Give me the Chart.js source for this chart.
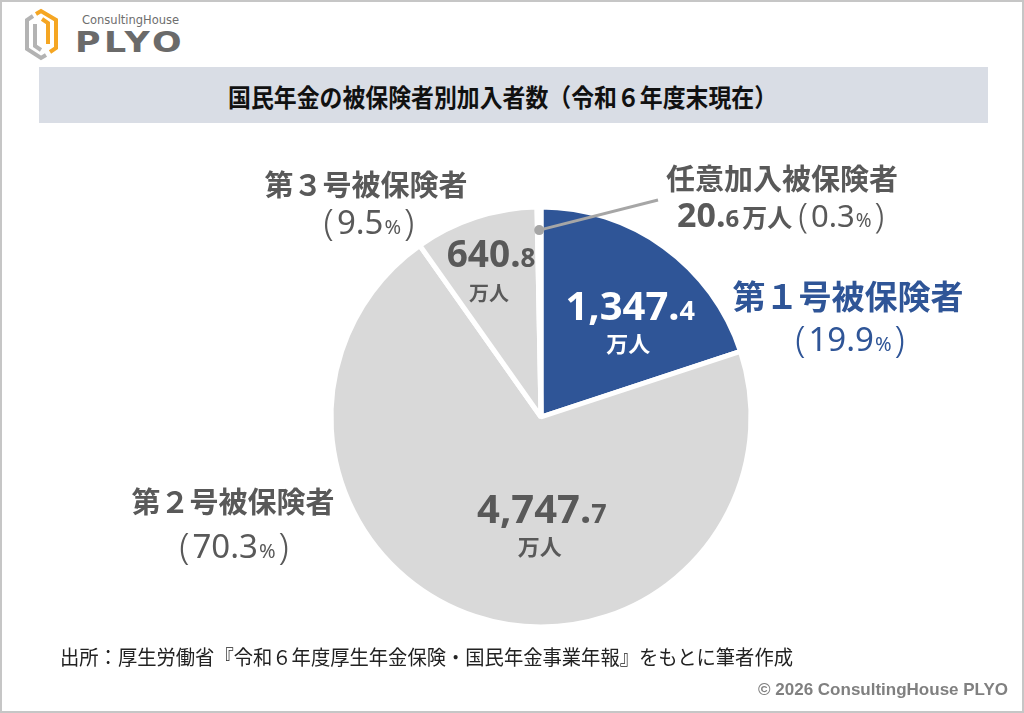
<!DOCTYPE html>
<html lang="ja"><head><meta charset="utf-8">
<script src="https://cdn.jsdelivr.net/npm/chart.js@4.4.1/dist/chart.umd.min.js"></script>
<style>
html,body{margin:0;padding:0;background:#fff;}
#wrap{position:relative;width:1024px;height:713px;overflow:hidden;background:#fff;font-family:"Noto Sans CJK JP",sans-serif;}
#frame{position:absolute;left:0;top:0;width:1020px;height:709px;border:2px solid #c6c6c6;pointer-events:none;z-index:5;}
#chart{position:absolute;left:0;top:0;}
#banner{position:absolute;left:39px;top:67px;width:949px;height:56px;background:#d9dde5;}
#title{position:absolute;left:228px;top:80px;font-weight:700;font-size:25px;line-height:32px;color:#111;white-space:nowrap;transform:scaleX(0.915);transform-origin:0 0;}
#source{position:absolute;left:60px;top:644px;font-size:20px;line-height:26px;color:#222;white-space:nowrap;transform:scaleX(0.965);transform-origin:0 0;}
#copy{position:absolute;right:16px;top:680px;font-family:"Liberation Sans",Arial,sans-serif;font-weight:700;font-size:17px;line-height:20px;color:#808080;white-space:nowrap;}
#ch{position:absolute;left:82px;top:13px;font-family:"DejaVu Sans",sans-serif;font-size:11.5px;line-height:14px;color:#6e6e6e;white-space:nowrap;}
#plyo{position:absolute;left:75px;top:28px;font-family:"DejaVu Sans",sans-serif;font-weight:700;font-size:29px;line-height:29px;letter-spacing:3px;color:#6a6a6a;white-space:nowrap;transform:scaleX(1.2);transform-origin:0 0;}
#icon{position:absolute;left:0;top:0;}
</style></head>
<body>
<div id="wrap">
  <svg id="icon" width="70" height="70">
    <g fill="none" stroke-width="4" stroke-linejoin="miter">
      <path d="M46 55 L41 58 L27 49 L27 20 L33 16" stroke="#b3b3b3"/>
      <path d="M35 24 L35 46 L41 50" stroke="#b3b3b3"/>
      <path d="M36 14 L41 11 L56 20 L56 48 L50 52" stroke="#f5a623"/>
      <path d="M48 44 L48 23 L42 19" stroke="#f5a623"/>
    </g>
  </svg>
  <div id="ch">ConsultingHouse</div>
  <div id="plyo">PLYO</div>
  <div id="banner"></div>
  <div id="title">国民年金の被保険者別加入者数（令和６年度末現在）</div>
  <canvas id="chart" width="1024" height="713"></canvas>
  <div id="source">出所：厚生労働省『令和６年度厚生年金保険・国民年金事業年報』をもとに筆者作成</div>
  <div id="copy">© 2026 ConsultingHouse PLYO</div>
  <div id="frame"></div>
</div>
<script>
// ---- data ----
const categories = ['第１号被保険者', '第２号被保険者', '第３号被保険者', '任意加入被保険者'];
const values = [1347.4, 4747.7, 640.8, 20.6];
const unitLabel = '万人';

// ---- styles ----
const sliceColors = ['#2f5597', '#d9d9d9', '#d9d9d9', '#d9d9d9'];
const GRAY = '#595959';
const BLUE = '#2f5597';
const CJK = '"Noto Sans CJK JP", sans-serif';
const NUM = '"Noto Sans", "Noto Sans CJK JP", sans-serif';

// inside-label placement: polar from slice mid-angle (fraction of radius) + pixel nudge
const inside = [
  {f: 0.68, dx: 5.5, dy: 19, big: 40, small: 27, unit: 22, unitDy: 23, color: '#ffffff'},
  {f: 0.443, dx: 30, dy: 17.6, big: 40, small: 27, unit: 22, unitDy: 24, color: GRAY},
  {f: 0.80, dx: 2.4, dy: 9.6, big: 37, small: 26, unit: 20, unitDy: 26, color: GRAY},
  null
];
// outside-label placement: offsets from pie centre
const outside = [
  {nx: 307, ny: -121, ns: 33, px: 309, py: -66, ps: 33, color: BLUE},
  {nx: -308, ny: 85, ns: 29, px: -307, py: 141, ps: 33, color: GRAY},
  {nx: -175, ny: -232, ns: 29, px: -172, py: -183, ps: 33, color: GRAY},
  {nx: 241, ny: -238, ns: 29, px: 136, py: -190, ps: 31, color: GRAY}
];

const total = values.reduce((a, b) => a + b, 0);
function fmtNum(v) {
  const s = v.toLocaleString('en-US', {minimumFractionDigits: 1, maximumFractionDigits: 1});
  const i = s.lastIndexOf('.');
  return [s.slice(0, i + 1), s.slice(i + 1)];
}
function pct(v) { return (v / total * 100).toFixed(1); }

function drawRuns(ctx, list, x, y, align) {
  let w = 0;
  list.forEach(r => { ctx.font = r.font; r.w = ctx.measureText(r.text).width; w += r.w + (r.gap || 0); });
  let sx = align === 'center' ? x - w / 2 : (align === 'right' ? x - w : x);
  ctx.textAlign = 'left';
  ctx.textBaseline = 'alphabetic';
  list.forEach(r => { ctx.font = r.font; ctx.fillStyle = r.color; ctx.fillText(r.text, sx, y + (r.dy || 0)); sx += r.w + (r.gap || 0); });
}
function pctRuns(p, size, color) {
  const ps = Math.round(size * 1.12);
  return [
    {text: '(', font: `300 ${ps}px ${NUM}`, color, gap: 3, dy: 1},
    {text: p, font: `400 ${size}px ${NUM}`, color, gap: 1},
    {text: '%', font: `400 ${Math.round(size * 0.62)}px ${NUM}`, color, gap: 3},
    {text: ')', font: `300 ${ps}px ${NUM}`, color, dy: 1}
  ];
}

const labelPlugin = {
  id: 'pieLabels',
  afterDatasetsDraw(chart) {
    const ctx = chart.ctx;
    const meta = chart.getDatasetMeta(0);
    ctx.save();
    meta.data.forEach((arc, i) => {
      const p = arc.getProps(['x', 'y', 'startAngle', 'endAngle', 'outerRadius'], true);
      const mid = (p.startAngle + p.endAngle) / 2;
      const v = values[i];
      const [bigTxt, smallTxt] = fmtNum(v);
      // inside labels
      const L = inside[i];
      if (L) {
        const ax = p.x + Math.cos(mid) * p.outerRadius * L.f + L.dx;
        const ay = p.y + Math.sin(mid) * p.outerRadius * L.f + L.dy;
        drawRuns(ctx, [
          {text: bigTxt, font: `700 ${L.big}px ${NUM}`, color: L.color},
          {text: smallTxt, font: `700 ${L.small}px ${NUM}`, color: L.color}
        ], ax, ay, 'center');
        ctx.font = `700 ${L.unit}px ${CJK}`;
        ctx.fillStyle = L.color;
        ctx.textAlign = 'center';
        ctx.textBaseline = 'middle';
        ctx.fillText(unitLabel, ax - 2, ay + L.unitDy);
      }
      // outside labels
      const O = outside[i];
      ctx.font = `700 ${O.ns}px ${CJK}`;
      ctx.fillStyle = O.color;
      ctx.textAlign = 'center';
      ctx.textBaseline = 'middle';
      ctx.fillText(categories[i], p.x + O.nx, p.y + O.ny);
      if (i < 3) {
        drawRuns(ctx, pctRuns(pct(v), O.ps, O.color), p.x + O.px, p.y + O.py, 'center');
      } else {
        // small slice: value + unit + percent on one line, with leader line
        const runs = [
          {text: bigTxt, font: `700 34px ${NUM}`, color: O.color},
          {text: smallTxt, font: `700 24px ${NUM}`, color: O.color, gap: 3},
          {text: unitLabel, font: `700 25px ${CJK}`, color: O.color, gap: 6}
        ].concat(pctRuns(pct(v), O.ps, O.color));
        drawRuns(ctx, runs, p.x + O.px, p.y + O.py, 'left');
        const dx = p.x + Math.cos(mid) * p.outerRadius * 0.89;
        const dy = p.y + Math.sin(mid) * p.outerRadius * 0.89;
        ctx.strokeStyle = '#a6a6a6';
        ctx.lineWidth = 3;
        ctx.beginPath();
        ctx.moveTo(dx, dy);
        ctx.lineTo(p.x + 117, p.y - 217);
        ctx.stroke();
        ctx.fillStyle = '#a6a6a6';
        ctx.beginPath();
        ctx.arc(dx, dy, 5, 0, Math.PI * 2);
        ctx.fill();
      }
    });
    ctx.restore();
  }
};

new Chart(document.getElementById('chart'), {
  type: 'pie',
  data: {
    labels: categories,
    datasets: [{
      data: values,
      backgroundColor: sliceColors,
      borderColor: '#ffffff',
      borderWidth: 5
    }]
  },
  options: {
    responsive: false,
    animation: false,
    devicePixelRatio: 1,
    radius: 210,
    layout: {padding: {left: 311, right: 253, top: 187, bottom: 66}},
    plugins: {legend: {display: false}, tooltip: {enabled: false}, title: {display: false}},
    events: []
  },
  plugins: [labelPlugin]
});
</script>
</body></html>
